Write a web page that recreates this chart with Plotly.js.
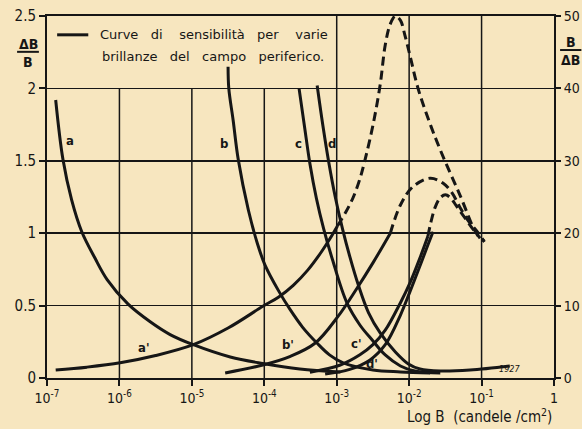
<!DOCTYPE html>
<html><head><meta charset="utf-8">
<script src="https://cdn.plot.ly/plotly-3.0.1.min.js"></script>
<style>html,body{margin:0;padding:0;background:#f7e6bf;}</style>
</head><body><div id="chart" style="width:582px;height:429px;"></div>
<script>
// x axis is Log B (log10 of candele/cm2)
const xTickVals = [-7, -6, -5, -4, -3, -2, -1, 0];
const xTickText = ['10<sup>-7</sup>', '10<sup>-6</sup>', '10<sup>-5</sup>', '10<sup>-4</sup>', '10<sup>-3</sup>', '10<sup>-2</sup>', '10<sup>-1</sup>', '1'];
const yLeftTicks = [0, 0.5, 1, 1.5, 2, 2.5];
const yRightTicks = [0, 10, 20, 30, 40, 50];

// ΔB/B curves (left axis)
const aLogB = [-6.88, -6.78, -6.66, -6.52, -6.34, -6.17, -5.88, -5.58, -5.30, -4.98, -4.47, -4.02, -3.51, -2.95];
const aVal  = [1.92, 1.51, 1.23, 1.01, 0.83, 0.68, 0.51, 0.39, 0.30, 0.23, 0.145, 0.10, 0.062, 0.041];
const bLogB = [-4.50, -4.49, -4.43, -4.36, -4.22, -4.09, -3.99, -3.80, -3.64, -3.47, -3.27, -3.10, -2.91, -2.50, -2.12, -1.71];
const bVal  = [2.15, 2.00, 1.78, 1.51, 1.16, 0.92, 0.78, 0.60, 0.47, 0.35, 0.24, 0.16, 0.104, 0.055, 0.042, 0.035];
const cLogB = [-3.52, -3.44, -3.37, -3.28, -3.18, -3.06, -2.86, -2.68, -2.51, -2.33, -2.12, -1.92, -1.57];
const cVal  = [2.00, 1.72, 1.48, 1.24, 1.03, 0.82, 0.52, 0.366, 0.262, 0.159, 0.083, 0.048, 0.035];
const dLogB = [-3.27, -3.19, -3.11, -3.02, -2.92, -2.82, -2.70, -2.56, -2.40, -2.19, -2.01, -1.85, -1.57, -1.16, -0.61];
const dVal  = [2.02, 1.74, 1.49, 1.25, 1.03, 0.84, 0.64, 0.45, 0.311, 0.18, 0.097, 0.062, 0.048, 0.055, 0.083];

// B/ΔB curves (right axis): solid part and dashed continuation
const aPrimeLogB = [-6.88, -6.45, -5.99, -5.50, -4.98, -4.50, -4.02, -3.80, -3.60, -3.40, -3.22, -3.09, -2.99];
const aPrimeVal  = [1.1, 1.5, 2.1, 3.1, 4.6, 6.9, 9.9, 11.2, 12.8, 14.9, 17.3, 19.3, 21.0];
const aPrimeDashLogB = [-2.99, -2.87, -2.77, -2.68, -2.61, -2.50, -2.40, -2.33, -2.26, -2.19, -2.12, -2.06, -1.99, -1.88, -1.74, -1.57, -1.30, -1.06, -0.96];
const aPrimeDashVal  = [21.0, 23.0, 25.0, 27.5, 30.1, 34.9, 40.5, 46.0, 48.9, 50, 49.4, 47.4, 44.6, 40.1, 35.9, 31.5, 25.3, 19.8, 18.9];
const bPrimeLogB = [-4.54, -4.02, -3.64, -3.30, -2.99, -2.72, -2.50, -2.26];
const bPrimeVal  = [0.7, 1.8, 3.0, 4.8, 8.4, 12.4, 15.9, 20.0];
const bPrimeDashLogB = [-2.26, -2.12, -1.95, -1.71, -1.53, -1.41, -1.30, -1.19, -1.06, -0.96];
const bPrimeDashVal  = [20.0, 23.9, 26.4, 27.6, 26.9, 25.6, 23.6, 21.8, 20.2, 18.8];
const cPrimeLogB = [-3.37, -2.95, -2.68, -2.50, -2.33, -2.12, -1.99, -1.85, -1.74];
const cPrimeVal  = [0.8, 1.8, 3.2, 4.6, 6.6, 10.4, 13.1, 16.6, 19.6];
const cPrimeDashLogB = [-1.74, -1.70, -1.64, -1.57, -1.50, -1.43, -1.35, -1.25, -1.13, -1.02];
const cPrimeDashVal  = [19.6, 21.5, 23.6, 24.9, 25.3, 24.9, 23.8, 22.4, 20.7, 19.3];
const dPrimeLogB = [-3.16, -2.82, -2.54, -2.33, -2.12, -1.99, -1.85, -1.74, -1.67];
const dPrimeVal  = [0.55, 1.2, 2.5, 4.6, 8.7, 11.9, 15.5, 18.4, 20.2];

const curveLabels = ['a', 'b', 'c', 'd', "a'", "b'", "c'", "d'"];
const labelLogB = [-6.68, -4.55, -3.53, -3.06, -5.67, -3.67, -2.72, -2.51];
const labelVal  = [1.64, 1.62, 1.62, 1.62, 0.21, 0.23, 0.24, 0.10];

const INK = '#161616';
const BG = '#f7e6bf';
const FONT = 'DejaVu Sans Condensed, Liberation Sans Narrow, Arial, sans-serif';
const TEXTFONT = 'DejaVu Sans, Arial, sans-serif';

function solid(x, y, axis) {
  return {x: x, y: y, yaxis: axis, type: 'scatter', mode: 'lines',
    line: {color: INK, width: 3, shape: 'spline', smoothing: 1}, hoverinfo: 'skip'};
}
function dashed(x, y, axis) {
  return {x: x, y: y, yaxis: axis, type: 'scatter', mode: 'lines',
    line: {color: INK, width: 3, dash: '9px,5px', shape: 'spline', smoothing: 1}, hoverinfo: 'skip'};
}

const traces = [
  solid(aLogB, aVal, 'y'), solid(bLogB, bVal, 'y'), solid(cLogB, cVal, 'y'), solid(dLogB, dVal, 'y'),
  solid(aPrimeLogB, aPrimeVal, 'y2'), dashed(aPrimeDashLogB, aPrimeDashVal, 'y2'),
  solid(bPrimeLogB, bPrimeVal, 'y2'), dashed(bPrimeDashLogB, bPrimeDashVal, 'y2'),
  solid(cPrimeLogB, cPrimeVal, 'y2'), dashed(cPrimeDashLogB, cPrimeDashVal, 'y2'),
  solid(dPrimeLogB, dPrimeVal, 'y2')
];

// vertical grid lines (the top-left box has none)
const shapes = [];
xTickVals.forEach(function (v) {
  if (v > xTickVals[0] && v < xTickVals[xTickVals.length - 1]) {
    shapes.push({type: 'line', xref: 'x', yref: 'y', x0: v, x1: v, y0: 0, y1: v < -3 ? 2 : 2.5,
      line: {color: INK, width: 1.5}, layer: 'below'});
  }
});
// legend dash
shapes.push({type: 'line', xref: 'x', yref: 'y', x0: -6.86, x1: -6.43, y0: 2.37, y1: 2.37, line: {color: INK, width: 3}});
// fraction bars of axis labels
shapes.push({type: 'line', xref: 'paper', yref: 'paper', x0: -0.059, x1: -0.016, y0: 0.901, y1: 0.901, line: {color: INK, width: 2}});
shapes.push({type: 'line', xref: 'paper', yref: 'paper', x0: 1.012, x1: 1.054, y0: 0.906, y1: 0.906, line: {color: INK, width: 2}});

function ann(x, y, xref, yref, text, size, fam, xanchor) {
  return {x: x, y: y, xref: xref, yref: yref, text: text, showarrow: false,
    xanchor: xanchor || 'center', yanchor: 'middle', font: {family: fam || FONT, size: size, color: INK}};
}

const annotations = curveLabels.map(function (t, i) {
  return ann(labelLogB[i], labelVal[i], 'x', 'y', '<b>' + t + '</b>', 13);
});
const nb = '\u00a0';
const s3 = nb + nb + nb;
const s4 = nb + nb + nb + nb;
annotations.push(ann(-6.30, 2.37, 'x', 'y', 'Curve' + s3 + 'di' + s4 + 'sensibilità' + s3 + 'per' + s4 + 'varie', 13, TEXTFONT, 'left'));
annotations.push(ann(-6.27, 2.22, 'x', 'y', 'brillanze' + s3 + 'del' + s3 + 'campo' + s3 + 'periferico.', 13, TEXTFONT, 'left'));
annotations.push(ann(-0.62, 0.065, 'x', 'y', '<i>1927</i>', 9));
annotations.push(ann(0.854, -0.105, 'paper', 'paper', 'Log B' + nb + nb + '(candele' + nb + '/cm<sup>2</sup>)', 15));
annotations.push(ann(-0.037, 0.923, 'paper', 'paper', '<b>ΔB</b>', 14));
annotations.push(ann(-0.037, 0.873, 'paper', 'paper', '<b>B</b>', 14));
annotations.push(ann(1.033, 0.928, 'paper', 'paper', '<b>B</b>', 14));
annotations.push(ann(1.033, 0.878, 'paper', 'paper', '<b>ΔB</b>', 14));

const layout = {
  width: 582, height: 429,
  margin: {l: 47, r: 28, t: 16, b: 51},
  paper_bgcolor: BG, plot_bgcolor: BG,
  showlegend: false,
  font: {family: FONT, color: INK, size: 14},
  xaxis: {range: [-7, 0], tickmode: 'array', tickvals: xTickVals, ticktext: xTickText,
    ticks: 'outside', ticklen: 6, tickwidth: 2, tickcolor: INK, showgrid: false, zeroline: false,
    showline: true, linewidth: 2, linecolor: INK, mirror: true, tickfont: {family: FONT, size: 14, color: INK}},
  yaxis: {range: [0, 2.5], tickmode: 'array', tickvals: yLeftTicks, ticks: 'outside', ticklen: 6, tickwidth: 2,
    tickcolor: INK, showgrid: true, gridcolor: INK, gridwidth: 1.5, zeroline: false,
    showline: true, linewidth: 2, linecolor: INK, tickfont: {family: FONT, size: 15, color: INK}},
  yaxis2: {range: [0, 50], overlaying: 'y', side: 'right', tickmode: 'array', tickvals: yRightTicks,
    ticks: 'outside', ticklen: 5, tickwidth: 2, tickcolor: INK, showgrid: false, zeroline: false,
    showline: true, linewidth: 2, linecolor: INK, tickfont: {family: FONT, size: 14, color: INK}},
  shapes: shapes,
  annotations: annotations
};

Plotly.newPlot('chart', traces, layout, {displayModeBar: false, staticPlot: true});
</script>
</body></html>
